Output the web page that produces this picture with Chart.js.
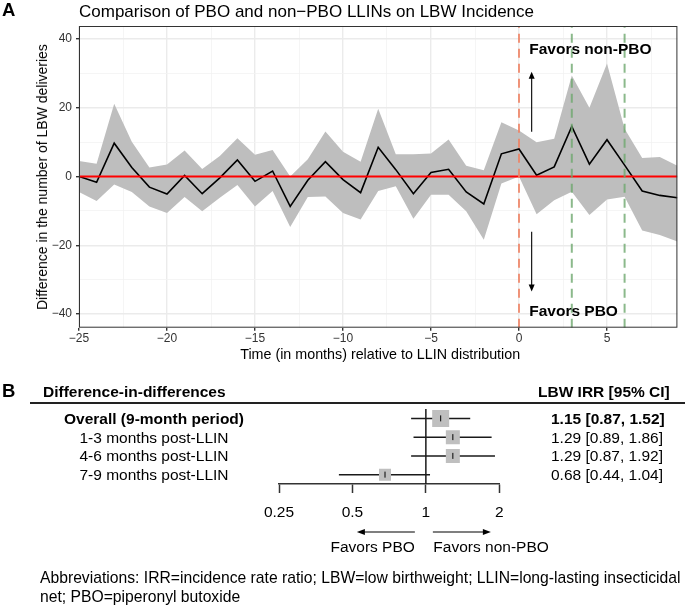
<!DOCTYPE html>
<html>
<head>
<meta charset="utf-8">
<script src="https://cdn.jsdelivr.net/npm/chart.js@4.4.0/dist/chart.umd.min.js"></script>
<style>
  body { margin: 0; background: #fff; }
  #wrap { position: relative; width: 685px; height: 606px; overflow: hidden; font-family: "Liberation Sans", Arial, Helvetica, sans-serif; }
  canvas { position: absolute; left: 0; }
  .t { position: absolute; white-space: nowrap; line-height: 1; color: #000; }
</style>
</head>
<body>
<div id="wrap">
  <canvas id="panelA" width="685" height="370" style="top:0"></canvas>
  <canvas id="panelB" width="685" height="236" style="top:370px"></canvas>
</div>
<script>
// ---- panel A: monthly difference in LBW deliveries ----
const months = [-25, -24, -23, -22, -21, -20, -19, -18, -17, -16, -15, -14, -13, -12, -11, -10, -9, -8,
  -7, -6, -5, -4, -3, -2, -1, 0, 1, 2, 3, 4, 5, 6, 7, 8, 9];
const diffEstimate = [0, -1.7, 9.7, 2.6, -3.1, -5.1, 0.3, -5.0, -0.4, 4.8, -1.4, 1.6, -8.7, -1.1, 4.3, -0.9, -4.7, 8.5,
  2.0, -5.0, 1.2, 2.1, -4.5, -8.0, 6.6, 8.0, 0.4, 2.8, 14.6, 3.6, 10.7, 3.3, -4.2, -5.5, -6.2];
const ciUpper = [4.5, 3.7, 21.2, 10.1, 2.6, 3.5, 7.6, 2.2, 6.0, 11.1, 6.3, 7.7, 0.0, 5.0, 13.1, 7.2, 4.3, 19.7,
  6.5, 6.5, 6.7, 10.8, 3.1, 1.8, 15.8, 13.4, 10.0, 11.0, 29.4, 20.0, 32.9, 13.9, 5.4, 5.7, 3.1];
const ciLower = [-4.5, -7.1, -2.3, -4.5, -8.7, -10.6, -6.0, -10.1, -6.2, -2.5, -8.7, -4.2, -14.7, -6.0, -5.8, -10.6, -12.5, -4.2,
  -2.8, -12.3, -5.3, -5.3, -10.1, -18.4, -2.0, 0.0, -11.0, -6.9, -4.4, -11.2, -6.7, -5.9, -15.7, -17.0, -18.9];

const xTickValues = [-25, -20, -15, -10, -5, 0, 5];
const xMinorValues = [-22.5, -17.5, -12.5, -7.5, -2.5, 2.5, 7.5];
const yTickValues = [-40, -20, 0, 20, 40];
const yMinorValues = [-30, -10, 10, 30];
const xRange = [-25, 9];
const yRange = [-44, 43.8];
const distributionMonth = [0];
const followupMonths = [3, 6];

// arrow / label annotations (data units)
const arrowMonth = 0.72;
const upArrow = [13, 30.5];
const downArrow = [-16.1, -33.5];
const labelMonth = 0.58;
const labelNonPBO = 35.5;
const labelPBO = -40.5;

// ---- panel B: difference-in-differences IRRs ----
const periods = ['Overall (9-month period)', '1-3 months post-LLIN', '4-6 months post-LLIN', '7-9 months post-LLIN'];
const irr = [1.15, 1.29, 1.29, 0.68];
const irrLower = [0.87, 0.89, 0.87, 0.44];
const irrUpper = [1.52, 1.86, 1.92, 1.04];
const forestTicks = [0.25, 0.5, 1, 2];

const FONT = '"Liberation Sans", Arial, Helvetica, sans-serif';
const wrap = document.getElementById('wrap');

function addText(str, x, base, size, opts = {}) {
  const d = document.createElement('div');
  d.className = 't';
  d.textContent = str;
  d.style.fontSize = size + 'px';
  d.style.fontWeight = opts.bold ? 'bold' : 'normal';
  d.style.left = x + 'px';
  d.style.top = (base - 0.8465 * size) + 'px';
  if (opts.align === 'center') d.style.transform = 'translateX(-50%)';
  if (opts.align === 'right') d.style.transform = 'translateX(-100%)';
  wrap.appendChild(d);
  return d;
}

const xy = (xs, ys) => xs.map((x, i) => ({ x, y: ys[i] }));
const minus = v => v < 0 ? '\u2212' + Math.abs(v) : String(v);

function arrow(ctx, x1, y1, x2, y2, len, half) {
  const a = Math.atan2(y2 - y1, x2 - x1);
  ctx.beginPath();
  ctx.moveTo(x1, y1);
  ctx.lineTo(x2 - Math.cos(a) * len * 0.6, y2 - Math.sin(a) * len * 0.6);
  ctx.stroke();
  ctx.beginPath();
  ctx.moveTo(x2, y2);
  ctx.lineTo(x2 - Math.cos(a) * len - Math.sin(a) * half, y2 - Math.sin(a) * len + Math.cos(a) * half);
  ctx.lineTo(x2 - Math.cos(a) * len + Math.sin(a) * half, y2 - Math.sin(a) * len - Math.cos(a) * half);
  ctx.closePath();
  ctx.fill();
}

const panelA = {
  id: 'panelA',
  afterDraw(chart) {
    const { ctx, chartArea: a, scales: { x, y } } = chart;
    ctx.save();
    ctx.strokeStyle = '#333';
    ctx.lineWidth = 1;
    ctx.strokeRect(a.left + 0.5, a.top + 0.5, a.right - a.left - 1, a.bottom - a.top - 1);
    ctx.strokeStyle = '#000';
    ctx.fillStyle = '#000';
    ctx.lineWidth = 1.1;
    const ax = x.getPixelForValue(arrowMonth);
    arrow(ctx, ax, y.getPixelForValue(upArrow[0]), ax, y.getPixelForValue(upArrow[1]), 7, 3);
    arrow(ctx, ax, y.getPixelForValue(downArrow[0]), ax, y.getPixelForValue(downArrow[1]), 7, 3);
    ctx.restore();
  }
};

const vline = (m, color) => ({
  data: [{ x: m, y: yRange[0] }, { x: m, y: yRange[1] }],
  borderColor: color, borderWidth: 2, borderDash: [9, 6], pointRadius: 0, order: 1
});

const chartA = new Chart(document.getElementById('panelA'), {
  type: 'line',
  data: {
    datasets: [
      { data: xy(months, ciLower), borderWidth: 0, pointRadius: 0, fill: false, order: 6 },
      { data: xy(months, ciUpper), borderWidth: 0, pointRadius: 0, fill: '-1', backgroundColor: '#bebebe', order: 5 },
      { data: xy(months, diffEstimate), borderColor: '#000', borderWidth: 1.6, pointRadius: 0, fill: false, order: 3 },
      { data: [{ x: xRange[0], y: 0 }, { x: xRange[1], y: 0 }], borderColor: '#ff0000', borderWidth: 2, pointRadius: 0, order: 2 },
      ...distributionMonth.map(m => vline(m, 'rgba(238,130,100,0.85)')),
      ...followupMonths.map(m => vline(m, 'rgba(110,168,110,0.8)'))
    ]
  },
  options: {
    responsive: false,
    animation: false,
    devicePixelRatio: 1,
    layout: { padding: { left: 0, top: 26, right: 7.6, bottom: 0 } },
    plugins: { legend: { display: false }, tooltip: { enabled: false } },
    scales: {
      x: {
        type: 'linear', min: xRange[0], max: xRange[1],
        afterBuildTicks: s => { s.ticks = [...xTickValues, ...xMinorValues].sort((p, q) => p - q).map(v => ({ value: v })); },
        afterFit: s => { s.height = 42.3; },
        ticks: { autoSkip: false, maxRotation: 0, padding: 1, color: '#333', font: { family: FONT, size: 12 },
          callback: v => xTickValues.includes(v) ? minus(v) : '' },
        grid: {
          color: c => c.tick && xTickValues.includes(c.tick.value) ? '#ebebeb' : '#f2f2f2',
          lineWidth: c => c.tick && xTickValues.includes(c.tick.value) ? 1.4 : 0.8,
          tickLength: 3,
          tickColor: c => c.tick && xTickValues.includes(c.tick.value) ? '#333' : 'rgba(0,0,0,0)'
        },
        border: { display: false }
      },
      y: {
        type: 'linear', min: yRange[0], max: yRange[1],
        afterBuildTicks: s => { s.ticks = [...yTickValues, ...yMinorValues].sort((p, q) => p - q).map(v => ({ value: v })); },
        afterFit: s => { s.width = 79; },
        ticks: { autoSkip: false, padding: 4, color: '#333', font: { family: FONT, size: 12 },
          callback: v => yTickValues.includes(v) ? minus(v) : '' },
        grid: {
          color: c => c.tick && yTickValues.includes(c.tick.value) ? '#ebebeb' : '#f2f2f2',
          lineWidth: c => c.tick && yTickValues.includes(c.tick.value) ? 1.4 : 0.8,
          tickLength: 3,
          tickColor: c => c.tick && yTickValues.includes(c.tick.value) ? '#333' : 'rgba(0,0,0,0)'
        },
        border: { display: false }
      }
    }
  },
  plugins: [panelA]
});

// panel A texts
addText('A', 2, 17, 18.5, { bold: true });
addText('Comparison of PBO and non\u2212PBO LLINs on LBW Incidence', 79, 17, 17);
addText('Time (in months) relative to LLIN distribution', (chartA.chartArea.left + chartA.chartArea.right) / 2 + 2, 359, 14.3, { align: 'center' });
const yt = addText('Difference in the number of LBW deliveries', 41.7, 0, 14);
yt.style.top = ((chartA.chartArea.top + chartA.chartArea.bottom) / 2) + 'px';
yt.style.transform = 'translate(-50%, -50%) rotate(-90deg)';
addText('Favors non-PBO', chartA.scales.x.getPixelForValue(labelMonth), chartA.scales.y.getPixelForValue(labelNonPBO), 15.5, { bold: true });
addText('Favors PBO', chartA.scales.x.getPixelForValue(labelMonth), chartA.scales.y.getPixelForValue(labelPBO), 15.5, { bold: true });

// ---- panel B chart ----
const rowIdx = periods.map((_, i) => i + 1);
const boxSide = [17, 14, 14, 12];

const panelB = {
  id: 'panelB',
  afterDraw(chart) {
    const { ctx, chartArea: a, scales: { x } } = chart;
    const x1 = x.getPixelForValue(1);
    const ay = a.bottom + 48;
    ctx.save();
    ctx.strokeStyle = '#000';
    ctx.fillStyle = '#000';
    ctx.lineWidth = 1.1;
    arrow(ctx, x1 - 11, ay, x1 - 69, ay, 8, 3);
    arrow(ctx, x1 + 7, ay, x1 + 65, ay, 8, 3);
    ctx.restore();
  }
};

const chartB = new Chart(document.getElementById('panelB'), {
  type: 'line',
  data: {
    datasets: [
      { data: xy(irr, rowIdx), showLine: false, pointStyle: 'line', rotation: 90, pointRadius: 3,
        borderColor: '#000', borderWidth: 1, order: 0 },
      { data: xy(irr, rowIdx), showLine: false, pointStyle: 'rect', pointRadius: boxSide.map(s => s / Math.SQRT2),
        backgroundColor: '#bfbfbf', borderWidth: 0, order: 1 },
      ...periods.map((_, i) => ({
        data: [{ x: irrLower[i], y: i + 1 }, { x: irrUpper[i], y: i + 1 }],
        borderColor: '#1a1a1a', borderWidth: 1.5, pointRadius: 0, order: 2
      })),
      { data: [{ x: 1, y: 0.5 }, { x: 1, y: periods.length + 0.5 }], borderColor: '#1a1a1a', borderWidth: 1.5, pointRadius: 0, order: 3 }
    ]
  },
  options: {
    responsive: false,
    animation: false,
    devicePixelRatio: 1,
    layout: { padding: { left: 279, top: 39, right: 185.7, bottom: 0 } },
    plugins: { legend: { display: false }, tooltip: { enabled: false } },
    scales: {
      x: {
        type: 'logarithmic', min: forestTicks[0], max: forestTicks[forestTicks.length - 1],
        afterBuildTicks: s => { s.ticks = forestTicks.map(v => ({ value: v })); },
        afterFit: s => { s.height = 122; },
        ticks: { autoSkip: false, maxRotation: 0, padding: 10.5, color: '#000', font: { family: FONT, size: 15.5 },
          callback: v => String(v) },
        grid: { drawOnChartArea: false, tickLength: 9, tickColor: '#333', tickWidth: 1.5 },
        border: { display: true, color: '#333', width: 1.5 }
      },
      y: { type: 'linear', min: 0.5, max: periods.length + 0.5, reverse: true, display: false }
    }
  },
  plugins: [panelB]
});

// panel B texts
const B_TOP = 370;
addText('B', 2, 398, 18.5, { bold: true });
addText('Difference-in-differences', 43, 397, 15.5, { bold: true });
addText('LBW IRR [95% CI]', 538, 397, 15.5, { bold: true });
const rule = document.createElement('div');
rule.style.cssText = 'position:absolute;left:30px;top:402px;width:655px;height:2px;background:#222;';
wrap.appendChild(rule);
periods.forEach((p, i) => {
  const base = B_TOP + chartB.scales.y.getPixelForValue(i + 1) + 5.5;
  addText(p, 154, base, 15.5, { bold: i === 0, align: 'center' });
  addText(`${irr[i].toFixed(2)} [${irrLower[i].toFixed(2)}, ${irrUpper[i].toFixed(2)}]`, 551, base, 15.5, { bold: i === 0 });
});
const x1px = chartB.scales.x.getPixelForValue(1);
addText('Favors PBO', x1px - 11, 552, 15.5, { align: 'right' });
addText('Favors non-PBO', x1px + 7.5, 552, 15.5);
addText('Abbreviations: IRR=incidence rate ratio; LBW=low birthweight; LLIN=long-lasting insecticidal', 40, 583, 15.7);
addText('net; PBO=piperonyl butoxide', 40, 602, 15.7);
</script>
</body>
</html>
